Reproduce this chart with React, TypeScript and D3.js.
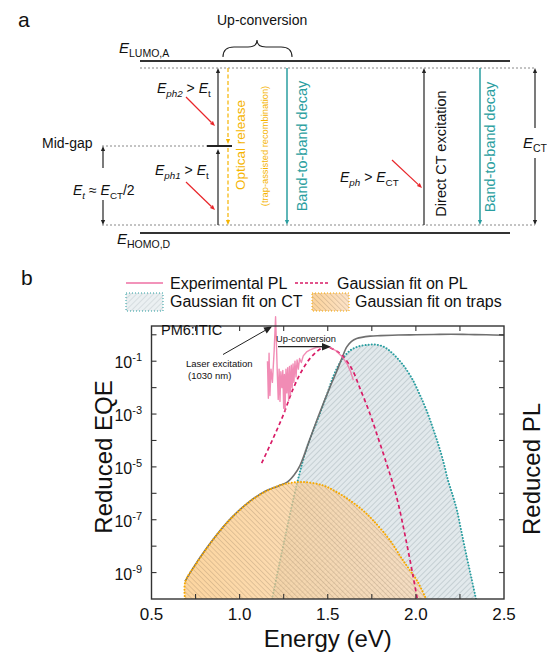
import React from "react";
import * as d3 from "d3";

// ---- data: [energy eV, log10(value)] ----
const ctFit: [number, number][] = [
  [1.184, -10], [1.25, -7.9], [1.326, -5.62], [1.38, -4.3], [1.437, -3.3], [1.494, -2.29],
  [1.53, -1.6], [1.57, -1.05], [1.626, -0.6], [1.68, -0.43], [1.73, -0.38], [1.77, -0.37],
  [1.82, -0.46], [1.87, -0.72], [1.927, -1.14], [1.98, -1.68], [2.023, -2.28], [2.06, -2.85],
  [2.097, -3.54], [2.125, -4.1], [2.154, -4.75], [2.182, -5.5], [2.21, -6.1], [2.233, -6.64],
  [2.26, -7.5], [2.29, -8.45], [2.315, -9.2], [2.341, -10],
];

const trapFit: [number, number][] = [
  [0.69, -10], [0.691, -9.36], [0.75, -8.7], [0.85, -7.75], [0.906, -7.28], [0.95, -6.96],
  [1.05, -6.35], [1.15, -5.92], [1.25, -5.66], [1.35, -5.57], [1.473, -5.7], [1.55, -5.95],
  [1.626, -6.27], [1.7, -6.65], [1.757, -7.02], [1.853, -7.78], [1.927, -8.54], [2.006, -9.3],
  [2.058, -10],
];

const eqeMeasured: [number, number][] = [
  [0.69, -9.33], [0.75, -8.68], [0.85, -7.74], [0.95, -6.95], [1.05, -6.34], [1.15, -5.9],
  [1.22, -5.72], [1.27, -5.58], [1.31, -5.3], [1.343, -4.94], [1.4, -3.92], [1.456, -2.92],
  [1.513, -1.97], [1.55, -1.4], [1.58, -0.89], [1.608, -0.46], [1.635, -0.25], [1.664, -0.14],
  [1.74, -0.05], [1.8, -0.03], [1.9, -0.01], [2.0, 0.0], [2.1, 0.01], [2.2, 0.02], [2.3, 0.01],
  [2.4, 0.0], [2.5, -0.02],
];

const plFit: [number, number][] = [
  [1.125, -4.86], [1.19, -3.92], [1.248, -3.03], [1.305, -2.02], [1.361, -1.27], [1.418, -0.76],
  [1.484, -0.46], [1.54, -0.58], [1.579, -0.77], [1.636, -1.28], [1.683, -2.03], [1.74, -3.0],
  [1.787, -3.93], [1.834, -4.88], [1.87, -5.65], [1.9, -6.39], [1.948, -7.9], [1.985, -9.17],
  [2.008, -10],
];

const plExperimental: [number, number][] = [
  [1.158, -1.0], [1.163, -2.4], [1.167, -0.7], [1.172, -2.3], [1.178, -1.3], [1.186, -1.8],
  [1.196, -0.6], [1.204, 0.68], [1.209, -0.4], [1.214, -1.5], [1.219, -2.45], [1.224, -1.3],
  [1.229, -2.52], [1.234, -1.4], [1.24, -2.0], [1.245, -1.35], [1.25, -2.78], [1.254, -1.5],
  [1.258, -2.89], [1.263, -1.3], [1.268, -2.2], [1.273, -1.25], [1.278, -2.5], [1.283, -1.2],
  [1.288, -2.3], [1.293, -1.15], [1.298, -2.0], [1.303, -1.1], [1.308, -1.8], [1.314, -1.0],
  [1.32, -1.6], [1.326, -0.95], [1.333, -1.3], [1.34, -0.9], [1.35, -1.05], [1.361, -0.8],
  [1.38, -0.65], [1.4, -0.57], [1.43, -0.49], [1.46, -0.45], [1.49, -0.45], [1.52, -0.5],
  [1.55, -0.62], [1.58, -0.82], [1.61, -1.1], [1.63, -1.4], [1.645, -1.72],
];

const energyLabels = [0.5, 1.0, 1.5, 2.0, 2.5];
const energyTicks = [0.75, 1.0, 1.25, 1.5, 1.75, 2.0, 2.25];
const decadeTicks = [-9, -8, -7, -6, -5, -4, -3, -2, -1, 0];
const decadeLabels = [-9, -7, -5, -3, -1];

const FONT = "'Liberation Sans', Arial, Helvetica, sans-serif";
const PINK = "#ee6fa3";
const CRIMSON = "#d81b66";
const TEAL = "#2a9ea0";
const ORANGE = "#f6a800";
const RED = "#e8262a";
const YELLOW = "#f5b400";

const x = d3.scaleLinear().domain([0.5, 2.5]).range([151.5, 504]);
const y = d3.scaleLog().domain([1e-10, 2.15]).range([599, 326]);
const yl = (l: number) => y(Math.pow(10, l));

const smooth = d3
  .line<[number, number]>()
  .x((d) => x(d[0]))
  .y((d) => yl(d[1]))
  .curve(d3.curveCatmullRom.alpha(0.5));
const raw = d3
  .line<[number, number]>()
  .x((d) => x(d[0]))
  .y((d) => yl(d[1]));
const fillArea = d3
  .area<[number, number]>()
  .x((d) => x(d[0]))
  .y0(y(1e-10))
  .y1((d) => yl(d[1]))
  .curve(d3.curveCatmullRom.alpha(0.5));

function Arrow({ x1, y1, x2, y2, color = "#222", head = 5, w = 1.2, dash }: any) {
  const a = Math.atan2(y2 - y1, x2 - x1);
  const bx = x2 - head * Math.cos(a);
  const by = y2 - head * Math.sin(a);
  const hw = head * 0.42;
  const pts = [
    [x2, y2],
    [bx - Math.sin(a) * hw, by + Math.cos(a) * hw],
    [bx + Math.sin(a) * hw, by - Math.cos(a) * hw],
  ]
    .map((p) => p.join(","))
    .join(" ");
  return (
    <g>
      <line x1={x1} y1={y1} x2={bx} y2={by} stroke={color} strokeWidth={w} strokeDasharray={dash} />
      <polygon points={pts} fill={color} />
    </g>
  );
}

function Sym({ x: tx, y: ty, parts, size = 14, anchor }: any) {
  // parts: [text, italic?, sub?]
  return (
    <text x={tx} y={ty} fontSize={size} textAnchor={anchor} fill="#111">
      {parts.map((p: any, i: number) => {
        const prevSub = i > 0 && parts[i - 1][2];
        const dy = p[2] && !prevSub ? 3.5 : !p[2] && prevSub ? -3.5 : 0;
        return (
          <tspan key={i} fontStyle={p[1] ? "italic" : "normal"} fontSize={p[2] ? size * 0.7 : size} dy={dy}>
            {p[0]}
          </tspan>
        );
      })}
    </text>
  );
}

function PanelA() {
  return (
    <g fontFamily={FONT}>
      <text x={18} y={27} fontSize={21} fill="#111">a</text>
      <text x={217} y={25} fontSize={14} fill="#111">Up-conversion</text>
      <path
        d="M223,57 Q223,47 234,47 L248,47 Q257,47 257,40 Q257,47 266,47 L281,47 Q292,47 292,57"
        fill="none"
        stroke="#222"
        strokeWidth={1.1}
      />
      <Sym x={119} y={53} size={15} parts={[["E", true], ["LUMO,A", false, true]]} />
      <Sym x={117} y={244} size={15} parts={[["E", true], ["HOMO,D", false, true]]} />

      <line x1={140} y1={61} x2={510} y2={61} stroke="#333" strokeWidth={2} />
      <line x1={140} y1={233} x2={510} y2={233} stroke="#333" strokeWidth={2} />
      <g stroke="#888" strokeWidth={1} strokeDasharray="2 2">
        <line x1={140} y1={68} x2={535} y2={68} />
        <line x1={102} y1={146} x2={218} y2={146} />
        <line x1={102} y1={225} x2={535} y2={225} />
      </g>

      <text x={42} y={148} fontSize={14} fill="#111">Mid-gap</text>
      <Arrow x1={103} y1={168} x2={103} y2={146} />
      <Arrow x1={103} y1={200} x2={103} y2={225} />
      <Sym x={73} y={195} parts={[["E", true], ["t", true, true], [" \u2248 ", false], ["E", true], ["CT", false, true], ["/2", false]]} />

      <line x1={207} y1={146} x2={232} y2={146} stroke="#222" strokeWidth={2} />
      <Arrow x1={218} y1={225} x2={218} y2={149} />
      <Arrow x1={218} y1={146} x2={218} y2={68} />
      <Arrow x1={228} y1={68} x2={228} y2={144} color={YELLOW} dash="4 2.5" />
      <Arrow x1={228} y1={148} x2={228} y2={225} color={YELLOW} dash="4 2.5" />

      <Sym x={157} y={93} parts={[["E", true], ["ph2", true, true], [" > ", false], ["E", true], ["t", false, true]]} />
      <Sym x={155} y={175} parts={[["E", true], ["ph1", true, true], [" > ", false], ["E", true], ["t", false, true]]} />
      <Arrow x1={186} y1={97} x2={215} y2={126} color={RED} />
      <Arrow x1={186} y1={182} x2={215} y2={210} color={RED} />

      <text transform="translate(245,145) rotate(-90)" textAnchor="middle" fontSize={13.5} fill={YELLOW}>
        Optical release
      </text>
      <text transform="translate(267.5,146) rotate(-90)" textAnchor="middle" fontSize={9.3} fill={YELLOW}>
        (trap-assisted recombination)
      </text>

      <Arrow x1={287} y1={68} x2={287} y2={225} color={TEAL} w={1.5} />
      <text transform="translate(306.5,146) rotate(-90)" textAnchor="middle" fontSize={14.5} fill={TEAL}>
        Band-to-band decay
      </text>

      <Sym x={340} y={182} parts={[["E", true], ["ph", true, true], [" > ", false], ["E", true], ["CT", false, true]]} />
      <Arrow x1={392} y1={160} x2={422} y2={188} color={RED} />
      <Arrow x1={424} y1={225} x2={424} y2={68} />
      <text transform="translate(446,153.5) rotate(-90)" textAnchor="middle" fontSize={14.5} fill="#111">
        Direct CT excitation
      </text>
      <Arrow x1={480} y1={68} x2={480} y2={225} color={TEAL} w={1.5} />
      <text transform="translate(494.5,147) rotate(-90)" textAnchor="middle" fontSize={14.5} fill={TEAL}>
        Band-to-band decay
      </text>

      <Arrow x1={535} y1={128} x2={535} y2={68} />
      <Arrow x1={535} y1={158} x2={535} y2={225} />
      <Sym x={523} y={148} size={15} parts={[["E", true], ["CT", false, true]]} />
    </g>
  );
}

function PanelB() {
  const bottom = y(1e-10);
  const top = 326;
  return (
    <g fontFamily={FONT}>
      <defs>
        <clipPath id="plotClip">
          <rect x={151.5} y={top} width={352.5} height={bottom - top} />
        </clipPath>
        <pattern id="ctHatch" width={4} height={4} patternUnits="userSpaceOnUse" patternTransform="rotate(45)">
          <rect width={4} height={4} fill="#e2e9ec" />
          <line x1={0} y1={0} x2={0} y2={4} stroke="#a3afb4" strokeWidth={0.9} />
        </pattern>
        <pattern id="trapHatch" width={3.6} height={3.6} patternUnits="userSpaceOnUse" patternTransform="rotate(-45)">
          <line x1={0} y1={0} x2={0} y2={3.6} stroke="#8c735c" strokeWidth={0.7} strokeOpacity={0.7} />
        </pattern>
        <linearGradient id="trapGrad" x1="0" x2="1" y1="0" y2="0">
          <stop offset="0%" stopColor="#fbc57a" />
          <stop offset="100%" stopColor="#fbd9b5" />
        </linearGradient>
      </defs>

      <text x={21} y={285} fontSize={21} fill="#111">b</text>

      {/* legend */}
      <line x1={126} y1={283} x2={163} y2={283} stroke={PINK} strokeWidth={1.6} />
      <text x={170} y={288.5} fontSize={16} fill="#111">Experimental PL</text>
      <line x1={295} y1={283} x2={330} y2={283} stroke={CRIMSON} strokeWidth={1.5} strokeDasharray="3 2" />
      <text x={337} y={288.5} fontSize={16} fill="#111">Gaussian fit on PL</text>
      <rect x={126} y={293} width={37} height={18} fill="url(#ctHatch)" fillOpacity={0.7} stroke={TEAL} strokeWidth={1} strokeDasharray="1 2" />
      <text x={170} y={307} fontSize={16} fill="#111">Gaussian fit on CT</text>
      <rect x={312} y={293} width={37} height={18} fill="url(#trapGrad)" fillOpacity={0.75} />
      <rect x={312} y={293} width={37} height={18} fill="url(#trapHatch)" stroke={ORANGE} strokeWidth={1} strokeDasharray="1 2" />
      <text x={355} y={307} fontSize={16} fill="#111">Gaussian fit on traps</text>

      <g clipPath="url(#plotClip)">
        <path d={fillArea(ctFit) || ""} fill="url(#ctHatch)" />
        <path d={smooth(ctFit) || ""} fill="none" stroke={TEAL} strokeWidth={2} strokeDasharray="0.1 3" strokeLinecap="round" />
        <path d={fillArea(trapFit) || ""} fill="url(#trapGrad)" fillOpacity={0.72} />
        <path d={fillArea(trapFit) || ""} fill="url(#trapHatch)" />
        <path d={smooth(eqeMeasured) || ""} fill="none" stroke="#6f6f6f" strokeWidth={1.6} />
        <path d={smooth(trapFit) || ""} fill="none" stroke={ORANGE} strokeWidth={2} strokeDasharray="0.1 3" strokeLinecap="round" />
        <path d={smooth(plFit) || ""} fill="none" stroke={CRIMSON} strokeWidth={1.7} strokeDasharray="4 3" />
      </g>
      <path d={raw(plExperimental) || ""} fill="none" stroke={PINK} strokeWidth={1.4} strokeOpacity={0.8} strokeLinejoin="round" />

      {/* frame and ticks */}
      <rect x={151.5} y={top} width={352.5} height={bottom - top} fill="none" stroke="#333" strokeWidth={1.4} />
      <g stroke="#333" strokeWidth={1.1}>
        {energyTicks.map((e) => (
          <g key={e}>
            <line x1={x(e)} x2={x(e)} y1={bottom} y2={bottom - 5} />
            <line x1={x(e)} x2={x(e)} y1={top} y2={top + 5} />
          </g>
        ))}
        {decadeTicks.map((d) => (
          <g key={d}>
            <line x1={151.5} x2={156.5} y1={yl(d)} y2={yl(d)} />
            <line x1={504} x2={499} y1={yl(d)} y2={yl(d)} />
          </g>
        ))}
      </g>
      {energyLabels.map((e) => (
        <text key={e} x={x(e)} y={620} fontSize={17} textAnchor="middle" fill="#111">
          {e.toFixed(1)}
        </text>
      ))}
      {decadeLabels.map((d) => (
        <text key={d} x={142} y={yl(d) + 7} fontSize={16} textAnchor="end" fill="#111">
          10<tspan fontSize={11} dy={-7}>{d}</tspan>
        </text>
      ))}
      <text x={x(1.5)} y={647} fontSize={24} textAnchor="middle" fill="#111">Energy (eV)</text>
      <text transform="translate(112,457) rotate(-90)" fontSize={24} textAnchor="middle" fill="#111">Reduced EQE</text>
      <text transform="translate(540,469) rotate(-90)" fontSize={24} textAnchor="middle" fill="#111">Reduced PL</text>

      {/* annotations */}
      <text x={161} y={335} fontSize={14.5} fill="#111">PM6:ITIC</text>
      <Arrow x1={223} y1={354.5} x2={272} y2={326.5} w={1} head={8} />
      <text x={186} y={367} fontSize={9.5} fill="#111">Laser excitation</text>
      <text x={188} y={379} fontSize={9.5} fill="#111">(1030 nm)</text>
      <text x={276} y={341.5} fontSize={9.3} fill="#111">Up-conversion</text>
      <Arrow x1={278} y1={346.7} x2={331} y2={346.7} w={1.2} head={9} />
    </g>
  );
}

export default function App() {
  return (
    <svg width={547} height={653} style={{ display: "block", position: "absolute", left: 0, top: 0, background: "#fff" }}>
      <rect width={547} height={653} fill="#fff" />
      <PanelA />
      <PanelB />
    </svg>
  );
}
